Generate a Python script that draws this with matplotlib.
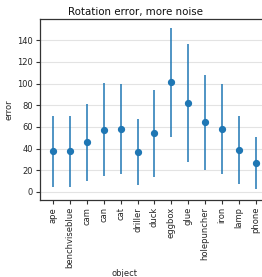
import matplotlib
matplotlib.use("Agg")
import matplotlib.pyplot as plt
import numpy as np

objects = ["ape", "benchviseblue", "cam", "can", "cat", "driller", "duck",
           "eggbox", "glue", "holepuncher", "iron", "lamp", "phone"]
means = [38, 38, 46, 57.5, 58.5, 36.5, 54, 101, 82, 64.5, 58.5, 39, 26.5]
lows = [5, 5, 10.5, 14.5, 17, 6, 13.5, 51, 28, 20.5, 17, 7, 2.5]
highs = [70, 70.5, 81, 100.5, 100, 67, 94, 151, 136, 108, 100, 70, 50.5]

W, H = 262, 277
fig = plt.figure(figsize=(W/100, H/100), dpi=100)
ax = fig.add_axes([40/W, 1-200/H, (262-40)/W, (200-19)/H])

x = np.arange(len(objects))
color = "#1f77b4"
ax.vlines(x, lows, highs, color=color, lw=1.1, zorder=3)
ax.plot(x, means, "o", color=color, ms=4.2, zorder=4)

ax.set_xlim(-0.77, 12.36)
ax.set_ylim(-7.4, 159.5)
ax.set_yticks([0, 20, 40, 60, 80, 100, 120, 140])
ax.set_xticks(x)
ax.set_xticklabels(objects, rotation=90)
ax.grid(axis="y", color="#e3e3e3", lw=0.8, zorder=0)
ax.set_axisbelow(True)
ax.spines["right"].set_visible(False)
for s in ["left", "bottom", "top"]:
    ax.spines[s].set_color("#333333")
    ax.spines[s].set_linewidth(0.9)
ax.tick_params(labelsize=6, color="#333333", length=3, width=0.8, pad=2, labelcolor="#262626")
ax.set_xlabel("object", fontsize=6, color="#262626", labelpad=2)
ax.xaxis.set_label_coords((124-40)/222, -(273-200)/181, transform=ax.transAxes)
ax.xaxis.label.set_va("center")
ax.set_ylabel("error", fontsize=6, color="#262626", labelpad=3)
ax.set_title("Rotation error, more noise", fontsize=7.4, color="#111111",
             x=(135.5-40)/222, pad=3)

fig.savefig("out.png", dpi=100)
